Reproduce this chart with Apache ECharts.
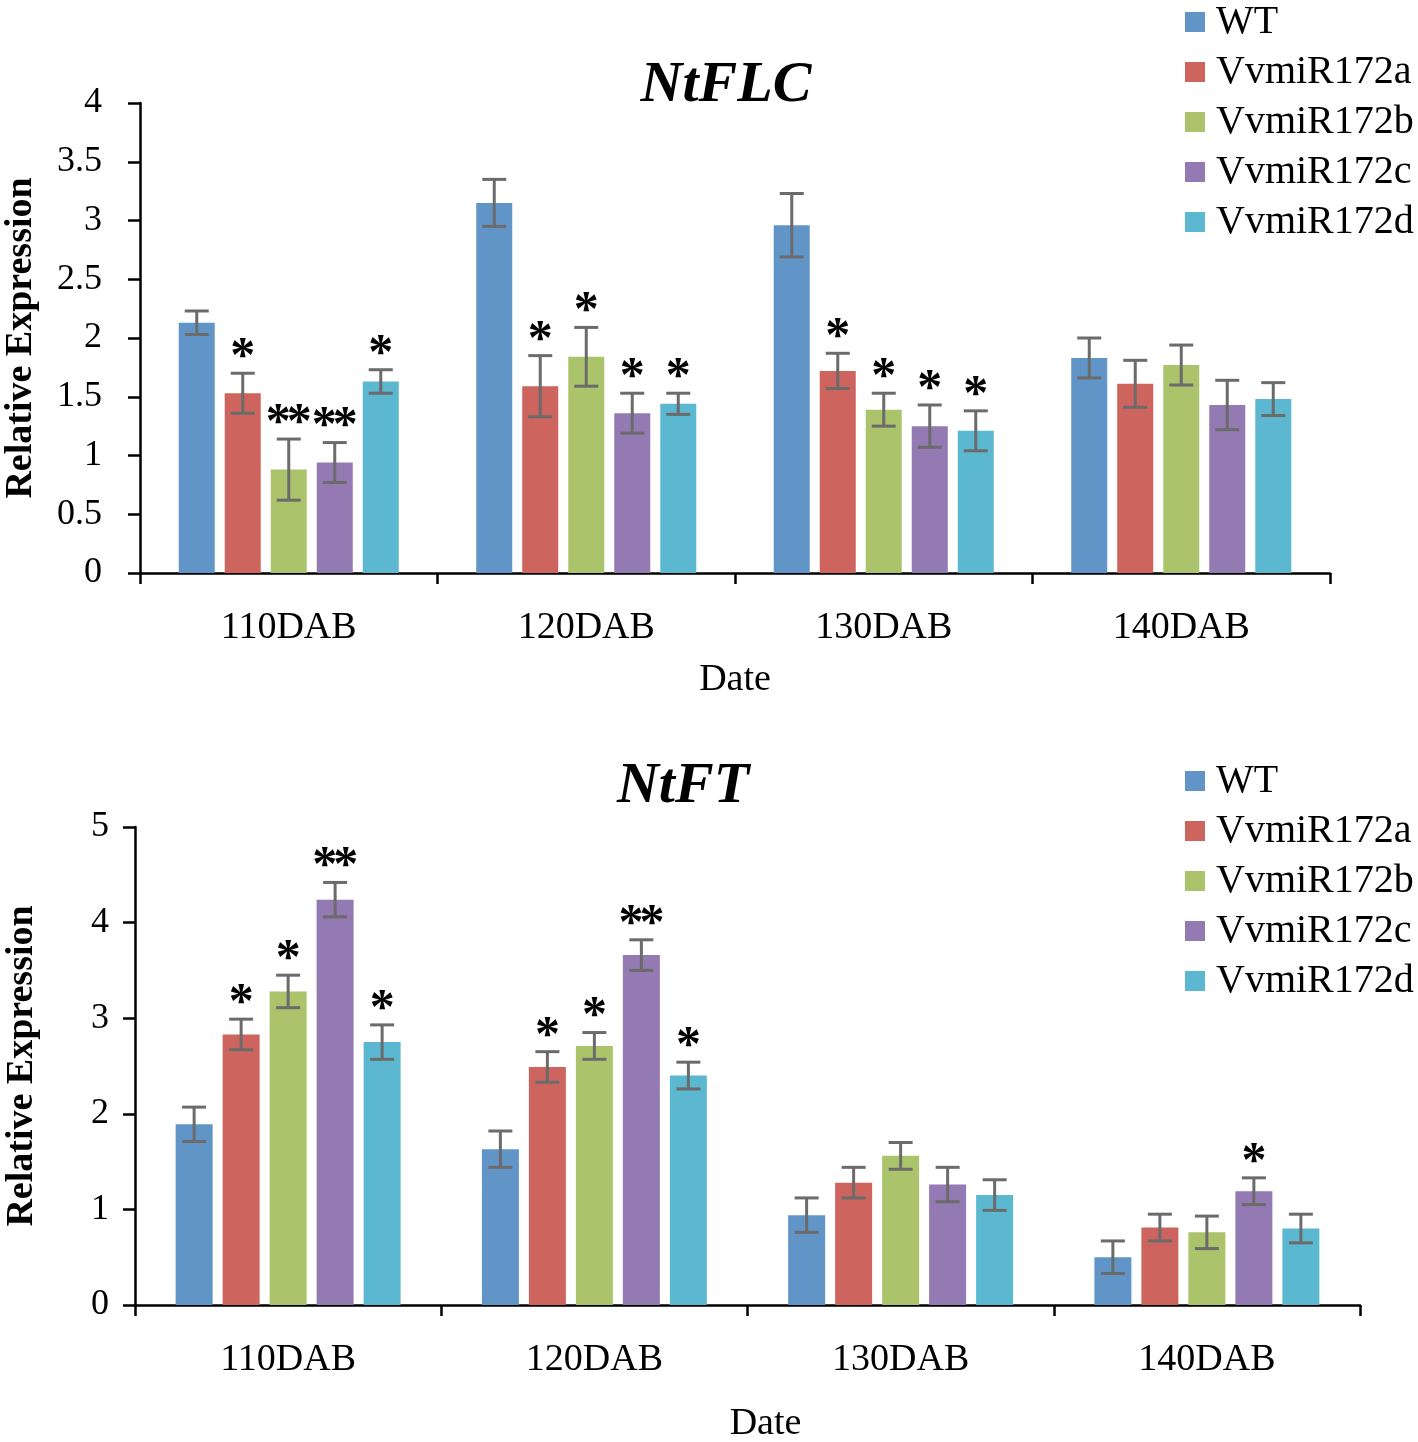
<!DOCTYPE html>
<html>
<head>
<meta charset="utf-8">
<script src="https://cdn.jsdelivr.net/npm/echarts@6/dist/echarts.min.js"></script>
<style>
html,body{margin:0;padding:0;background:#fff;}
#main{width:1418px;height:1442px;}
</style>
</head>
<body>
<div id="main"></div>
<script>
const categories = ['110DAB', '120DAB', '130DAB', '140DAB'];
const seriesNames = ['WT', 'VvmiR172a', 'VvmiR172b', 'VvmiR172c', 'VvmiR172d'];
const colors = ['#6195c8', '#cd655e', '#abc46c', '#937ab2', '#5cb8d0'];

// NtFLC
const flcWT = [2.13, 3.15, 2.96, 1.83];
const flcA  = [1.53, 1.59, 1.72, 1.61];
const flcB  = [0.88, 1.84, 1.39, 1.77];
const flcC  = [0.94, 1.36, 1.25, 1.43];
const flcD  = [1.63, 1.44, 1.21, 1.48];
const flcWTErr = [0.10, 0.20, 0.27, 0.17];
const flcAErr  = [0.17, 0.26, 0.15, 0.20];
const flcBErr  = [0.26, 0.25, 0.14, 0.17];
const flcCErr  = [0.17, 0.17, 0.18, 0.21];
const flcDErr  = [0.10, 0.09, 0.17, 0.14];
const flcWTSig = ['', '', '', ''];
const flcASig  = ['*', '*', '*', ''];
const flcBSig  = ['**', '*', '*', ''];
const flcCSig  = ['**', '*', '*', ''];
const flcDSig  = ['*', '*', '*', ''];

// NtFT
const ftWT = [1.89, 1.63, 0.94, 0.50];
const ftA  = [2.83, 2.49, 1.28, 0.81];
const ftB  = [3.28, 2.71, 1.56, 0.76];
const ftC  = [4.24, 3.66, 1.26, 1.19];
const ftD  = [2.75, 2.40, 1.15, 0.80];
const ftWTErr = [0.18, 0.19, 0.18, 0.17];
const ftAErr  = [0.16, 0.16, 0.16, 0.14];
const ftBErr  = [0.17, 0.14, 0.14, 0.17];
const ftCErr  = [0.18, 0.16, 0.18, 0.14];
const ftDErr  = [0.18, 0.14, 0.16, 0.15];
const ftWTSig = ['', '', '', ''];
const ftASig  = ['*', '*', '', ''];
const ftBSig  = ['*', '*', '', ''];
const ftCSig  = ['**', '**', '', '*'];
const ftDSig  = ['*', '*', '', ''];

const flcVals = [flcWT, flcA, flcB, flcC, flcD];
const flcErrs = [flcWTErr, flcAErr, flcBErr, flcCErr, flcDErr];
const flcSigs = [flcWTSig, flcASig, flcBSig, flcCSig, flcDSig];
const ftVals = [ftWT, ftA, ftB, ftC, ftD];
const ftErrs = [ftWTErr, ftAErr, ftBErr, ftCErr, ftDErr];
const ftSigs = [ftWTSig, ftASig, ftBSig, ftCSig, ftDSig];

const serif = '"Liberation Serif", "DejaVu Serif", serif';

function buildErr(vals, errs, sigs) {
  const data = [], sig = [];
  vals.forEach((arr, s) => arr.forEach((v, c) => {
    data.push([c, s, v, errs[s][c]]);
    sig.push(sigs[s][c]);
  }));
  return { data, sig };
}

function errSeries(gridIdx, vals, errs, sigs, step) {
  const built = buildErr(vals, errs, sigs);
  return {
    type: 'custom',
    xAxisIndex: gridIdx,
    yAxisIndex: gridIdx,
    z: 10,
    silent: true,
    encode: { x: 0, y: 2 },
    data: built.data,
    renderItem: function (params, api) {
      const c = api.value(0), s = api.value(1), v = api.value(2), e = api.value(3);
      const base = api.coord([c, v]);
      const x = base[0] + (s - 2) * step;
      const yt = api.coord([c, v + e])[1];
      const yb = api.coord([c, v - e])[1];
      const hw = 12;
      const st = { stroke: '#6b6b6b', lineWidth: 3 };
      const children = [
        { type: 'line', shape: { x1: x, y1: yt, x2: x, y2: yb }, style: st },
        { type: 'line', shape: { x1: x - hw, y1: yt, x2: x + hw, y2: yt }, style: st },
        { type: 'line', shape: { x1: x - hw, y1: yb, x2: x + hw, y2: yb }, style: st }
      ];
      const t = built.sig[params.dataIndex];
      const n = t.length;
      for (let k = 0; k < n; k++) {
        children.push({
          type: 'text',
          style: {
            text: t[k], x: x + (k - (n - 1) / 2) * 21, y: yt - 15,
            textAlign: 'center', textVerticalAlign: 'middle',
            font: 'bold 50px ' + serif, fill: '#000'
          }
        });
      }
      return { type: 'group', children: children };
    }
  };
}

function barSeries(gridIdx, vals, bw, gap) {
  return vals.map((arr, s) => ({
    name: seriesNames[s],
    type: 'bar',
    xAxisIndex: gridIdx,
    yAxisIndex: gridIdx,
    data: arr,
    barWidth: bw,
    barGap: gap,
    itemStyle: { color: colors[s] },
    emphasis: { disabled: true }
  }));
}

function xAx(gridIdx, nameGap, namePad) {
  return {
    type: 'category',
    gridIndex: gridIdx,
    data: categories,
    boundaryGap: true,
    name: 'Date',
    nameLocation: 'middle',
    nameGap: nameGap,
    nameTextStyle: { fontFamily: serif, fontSize: 38, color: '#000', padding: namePad },
    axisLine: { lineStyle: { color: '#000', width: 2.5 } },
    axisTick: { show: true, alignWithLabel: false, length: 11, lineStyle: { color: '#000', width: 2.5 } },
    axisLabel: { fontFamily: serif, fontSize: 38, color: '#000', margin: 36 },
    splitLine: { show: false }
  };
}

function yAx(gridIdx, max, interval, nameGap, margin) {
  return {
    type: 'value',
    gridIndex: gridIdx,
    min: 0, max: max, interval: interval,
    name: 'Relative Expression',
    nameLocation: 'middle',
    nameRotate: 90,
    nameGap: nameGap,
    nameTextStyle: { fontFamily: serif, fontSize: 38, fontWeight: 'bold', color: '#000' },
    axisLine: { show: true, lineStyle: { color: '#000', width: 2.5 } },
    axisTick: { show: true, length: 12, lineStyle: { color: '#000', width: 2.5 } },
    axisLabel: { fontFamily: serif, fontSize: 36, color: '#000', margin: margin },
    splitLine: { show: false }
  };
}

function legendAt(top) {
  return {
    orient: 'vertical',
    left: 1180,
    top: top,
    data: seriesNames,
    itemWidth: 20,
    itemHeight: 20,
    itemGap: 10,
    icon: 'rect',
    selectedMode: false,
    textStyle: { fontFamily: serif, fontSize: 40, color: '#000', lineHeight: 40, padding: [0, 0, 0, 6] }
  };
}

const chart = echarts.init(document.getElementById('main'));
chart.setOption({
  backgroundColor: '#fff',
  animation: false,
  grid: [
    { left: 140, top: 103, width: 1190, height: 470, containLabel: false, outerBoundsMode: 'none' },
    { left: 135, top: 827, width: 1225, height: 478, containLabel: false, outerBoundsMode: 'none' }
  ],
  legend: [legendAt(-3), legendAt(756)],
  graphic: [
    { type: 'text', x: 726, y: 86, style: { text: 'NtFLC', font: 'italic bold 58px ' + serif, textAlign: 'center', textVerticalAlign: 'middle', fill: '#000' } },
    { type: 'text', x: 683, y: 787, style: { text: 'NtFT', font: 'italic bold 58px ' + serif, textAlign: 'center', textVerticalAlign: 'middle', fill: '#000' } }
  ],
  xAxis: [xAx(0, 88, 0), xAx(1, 100, [0, 0, 0, 36])],
  yAxis: [yAx(0, 4, 0.5, 100, 38), yAx(1, 5, 1, 94, 26)],
  series: [
    ...barSeries(0, flcVals, 36, '27.8%'),
    errSeries(0, flcVals, flcErrs, flcSigs, 46),
    ...barSeries(1, ftVals, 37, '27%'),
    errSeries(1, ftVals, ftErrs, ftSigs, 47)
  ]
});
</script>
</body>
</html>
